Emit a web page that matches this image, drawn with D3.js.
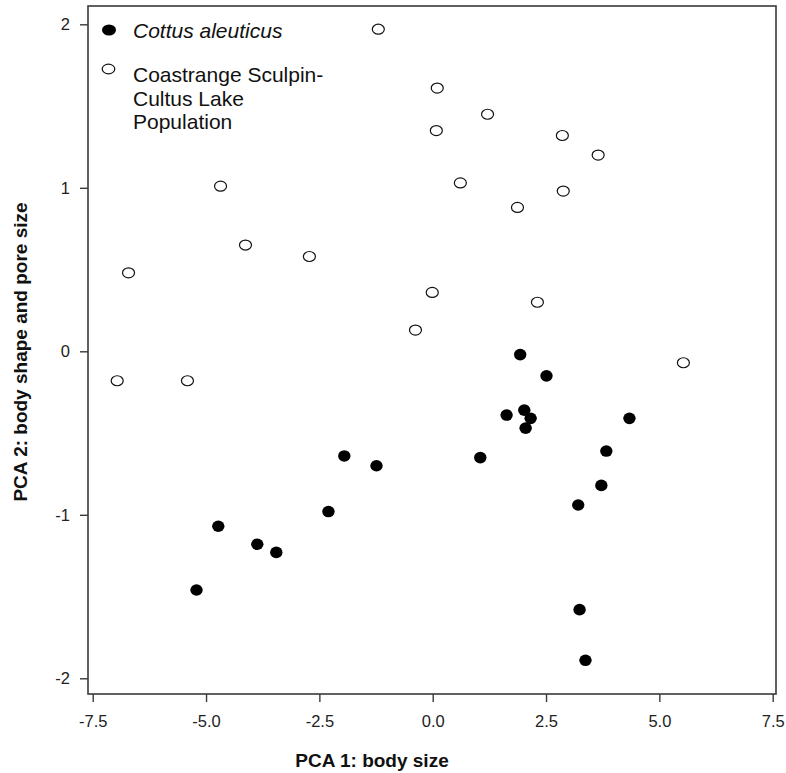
<!DOCTYPE html>
<html>
<head>
<meta charset="utf-8">
<script src="https://cdn.jsdelivr.net/npm/d3@7"></script>
<style>
  html, body { margin: 0; padding: 0; background: #fff; }
  svg { display: block; font-family: Arial, "Liberation Sans", sans-serif; }
</style>
</head>
<body>
<svg id="chart" width="786" height="773"></svg>
<script>
// ---- data ----
const seriesNames = ["Cottus aleuticus", "Coastrange Sculpin-Cultus Lake Population"];

const aleuticusPC1 = [1.93, 2.51, 1.63, 2.02, 2.16, 2.05, 4.34, -1.95, -1.24, 1.05, 3.83, 3.72, 3.21, -2.30, -4.73, -3.87, -3.45, -5.21, 3.24, 3.37];
const aleuticusPC2 = [-0.02, -0.15, -0.39, -0.36, -0.41, -0.47, -0.41, -0.64, -0.70, -0.65, -0.61, -0.82, -0.94, -0.98, -1.07, -1.18, -1.23, -1.46, -1.58, -1.89];

const cultusPC1 = [-1.20, 0.10, 1.21, 0.08, 2.86, 3.65, -4.68, 0.61, 1.87, 2.88, -4.13, -2.72, -6.71, -0.01, 2.31, -0.38, -6.96, -5.41, 5.53];
const cultusPC2 = [1.97, 1.61, 1.45, 1.35, 1.32, 1.20, 1.01, 1.03, 0.88, 0.98, 0.65, 0.58, 0.48, 0.36, 0.30, 0.13, -0.18, -0.18, -0.07];

const xTicks = [-7.5, -5.0, -2.5, 0.0, 2.5, 5.0, 7.5];
const yTicks = [-2, -1, 0, 1, 2];
const xTitle = "PCA 1: body size";
const yTitle = "PCA 2: body shape and pore size";

// ---- layout ----
const svg = d3.select("#chart");
const L = 88, R = 776, T = 6, B = 694;

const x = d3.scaleLinear().domain([-7.604, 7.573]).range([L, R]);
const y = d3.scaleLinear().domain([-2.096, 2.112]).range([B, T]);

const axisColor = "#3a3a3a";

// frame
svg.append("rect")
  .attr("x", L).attr("y", T).attr("width", R - L).attr("height", B - T)
  .attr("fill", "none").attr("stroke", axisColor).attr("stroke-width", 1.6);

// x axis
const gx = svg.append("g").attr("transform", `translate(0,${B})`)
  .call(d3.axisBottom(x).tickValues(xTicks).tickFormat(d => d.toFixed(1)).tickSize(8).tickSizeOuter(0).tickPadding(13));
gx.select(".domain").remove();
gx.selectAll(".tick line").attr("stroke", axisColor).attr("stroke-width", 1.4);
gx.selectAll(".tick text").attr("fill", "#222").style("font-size", "16.5px").style("font-family", "Arial, 'Liberation Sans', sans-serif");

// y axis
const gy = svg.append("g").attr("transform", `translate(${L},0)`)
  .call(d3.axisLeft(y).tickValues(yTicks).tickFormat(d => String(d)).tickSize(8).tickSizeOuter(0).tickPadding(10));
gy.select(".domain").remove();
gy.selectAll(".tick line").attr("stroke", axisColor).attr("stroke-width", 1.4);
gy.selectAll(".tick text").attr("fill", "#222").style("font-size", "16.5px").style("font-family", "Arial, 'Liberation Sans', sans-serif");

// axis titles
svg.append("text")
  .attr("x", 372).attr("y", 767)
  .attr("text-anchor", "middle")
  .style("font-size", "19px").style("font-weight", "bold")
  .attr("fill", "#111")
  .text(xTitle);

svg.append("text")
  .attr("transform", `translate(27,${(T + B) / 2 + 2}) rotate(-90)`)
  .attr("text-anchor", "middle")
  .style("font-size", "19px").style("font-weight", "bold")
  .attr("fill", "#111")
  .text(yTitle);

// points
const cultus = cultusPC1.map((v, i) => ({ x: v, y: cultusPC2[i] }));
const aleut = aleuticusPC1.map((v, i) => ({ x: v, y: aleuticusPC2[i] }));

svg.append("g").selectAll("ellipse").data(cultus).join("ellipse")
  .attr("cx", d => x(d.x)).attr("cy", d => y(d.y))
  .attr("rx", 6).attr("ry", 5)
  .attr("fill", "#fff").attr("stroke", "#111").attr("stroke-width", 1.2);

svg.append("g").selectAll("ellipse").data(aleut).join("ellipse")
  .attr("cx", d => x(d.x)).attr("cy", d => y(d.y))
  .attr("rx", 6.2).attr("ry", 5.8)
  .attr("fill", "#000");

// legend
const lg = svg.append("g");
lg.append("ellipse").attr("cx", 109).attr("cy", 30).attr("rx", 7).attr("ry", 5.6).attr("fill", "#000");
lg.append("text").attr("x", 133).attr("y", 37.5)
  .style("font-size", "21px").style("font-style", "italic").attr("fill", "#111")
  .text(seriesNames[0]);

lg.append("ellipse").attr("cx", 108.5).attr("cy", 69).attr("rx", 6.3).attr("ry", 4.8)
  .attr("fill", "#fff").attr("stroke", "#111").attr("stroke-width", 1.2);
const lines = ["Coastrange Sculpin-", "Cultus Lake", "Population"];
lg.append("text").attr("x", 133).attr("y", 82)
  .style("font-size", "21px").attr("fill", "#111")
  .selectAll("tspan").data(lines).join("tspan")
  .attr("x", 133).attr("dy", (d, i) => i === 0 ? 0 : 23.5)
  .text(d => d);
</script>
</body>
</html>
